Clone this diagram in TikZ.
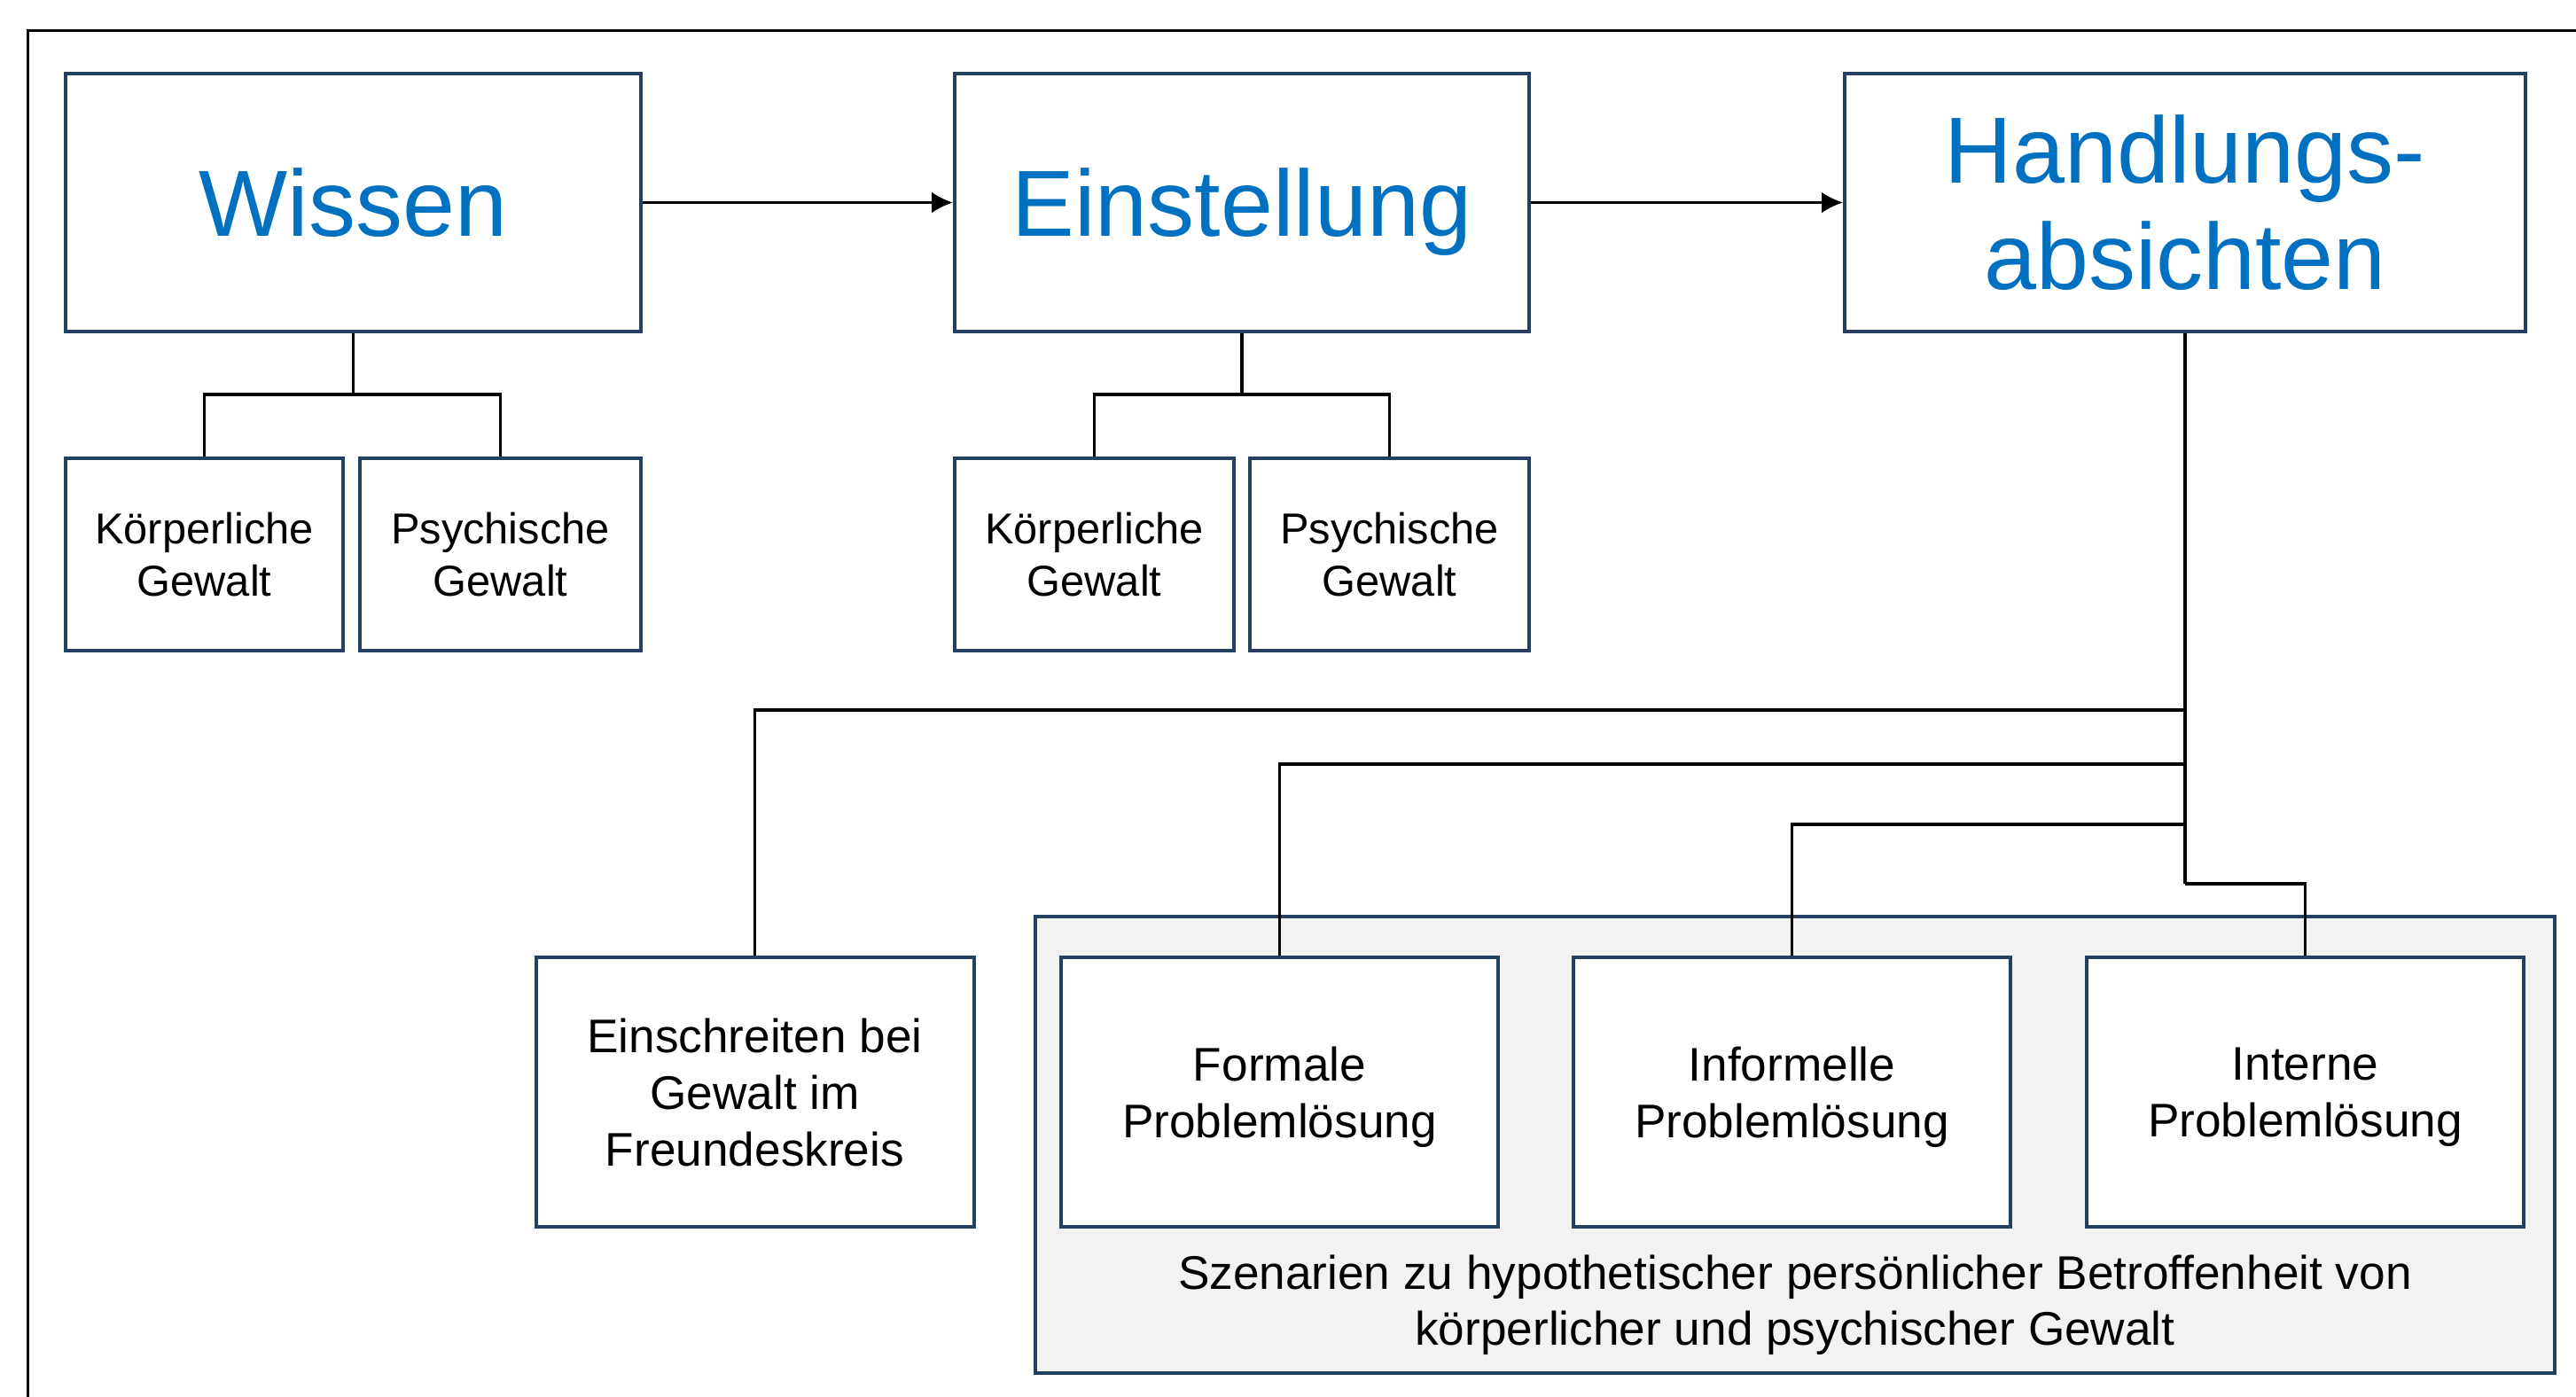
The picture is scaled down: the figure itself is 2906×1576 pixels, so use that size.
\documentclass[tikz,border=0pt]{standalone}
\usepackage{fontspec}
\setmainfont{Liberation Sans}
\usetikzlibrary{arrows.meta}
\definecolor{titleblue}{HTML}{0070C0}
\definecolor{boxline}{HTML}{243F60}
\definecolor{panelgray}{HTML}{F2F2F2}
\begin{document}
\begin{tikzpicture}[x=0.25pt,y=-0.25pt,
  bigbox/.style={draw=boxline,line width=1pt,fill=white,inner sep=0pt,
    minimum height=72.75pt,align=center,text=titleblue,
    font=\fontsize{26.5}{30}\selectfont},
  smallbox/.style={draw=boxline,line width=1pt,fill=white,inner sep=0pt,
    minimum height=54.25pt,align=center,
    font=\fontsize{12.2}{14.8}\selectfont},
  midbox/.style={draw=boxline,line width=1pt,fill=white,inner sep=0pt,
    minimum height=76pt,minimum width=123.5pt,align=center,
    font=\fontsize{13.3}{16}\selectfont},
  conn/.style={line width=0.8pt,draw=black},
  arr/.style={conn,-{Latex[length=6pt,width=6pt]}}]
\useasboundingbox (0,0) rectangle (2906,1576);
% outer frame (top and left edges)
\draw[line width=0.75pt] (31,1576) -- (31,34) -- (2906,34);
% grey panel
\node[draw=boxline,line width=1pt,fill=panelgray,inner sep=0pt,
  minimum width=428.5pt,minimum height=128.75pt] (panel) at (2025,1291.5) {};
\node[align=center,font=\fontsize{13.3}{15.8}\selectfont] (plabel) at (2025,1472)
  {Szenarien zu hypothetischer persönlicher Betroffenheit von\\körperlicher und psychischer Gewalt};
% top row
\node[bigbox,minimum width=162.25pt] (W) at (398.5,228.5) {Wissen};
\node[bigbox,minimum width=162pt,text depth=0pt] (E) at (1401,228.5) {Einstellung};
\node[bigbox,minimum width=192pt] (H) at (2465,228.5) {Handlungs-\\absichten};
% second row
\node[smallbox,minimum width=78.25pt] (K1) at (230.5,625.5) {Körperliche\\Gewalt};
\node[smallbox,minimum width=79.25pt] (P1) at (564.5,625.5) {Psychische\\Gewalt};
\node[smallbox,minimum width=78.75pt] (K2) at (1234.5,625.5) {Körperliche\\Gewalt};
\node[smallbox,minimum width=78.75pt] (P2) at (1567.5,625.5) {Psychische\\Gewalt};
% bottom row
\node[midbox] (Ein) at (851.5,1232) {Einschreiten bei\\Gewalt im\\Freundeskreis};
\node[midbox,minimum width=123.25pt,text depth=0pt] (F) at (1443.5,1232) {Formale\\Problemlösung};
\node[midbox,minimum width=123.25pt,text depth=0pt] (I) at (2021.5,1232) {Informelle\\Problemlösung};
\node[midbox,minimum width=123.25pt,text depth=0pt] (In) at (2600.5,1232) {Interne\\Problemlösung};
% arrows
\draw[arr] (W.east) -- (E.west);
\draw[arr] (E.east) -- (H.west);
% junction coordinates
\coordinate (wj) at (398.5,445);
\coordinate (ej) at (1401,445);
\coordinate (h1) at (2465,801);
\coordinate (h2) at (2465,862);
\coordinate (h3) at (2465,930);
\coordinate (h4) at (2465,997);
% Wissen branches
\draw[conn] (W.south) -- (wj);
\draw[conn] (wj) -| (K1.north);
\draw[conn] (wj) -| (P1.north);
% Einstellung branches
\draw[conn] (E.south) -- (ej);
\draw[conn] (ej) -| (K2.north);
\draw[conn] (ej) -| (P2.north);
% Handlungsabsichten branches
\draw[conn] (H.south) -- (h4);
\draw[conn] (h1) -| (Ein.north);
\draw[conn] (h2) -| (F.north);
\draw[conn] (h3) -| (I.north);
\draw[conn] (h4) -| (In.north);
\end{tikzpicture}
\end{document}
